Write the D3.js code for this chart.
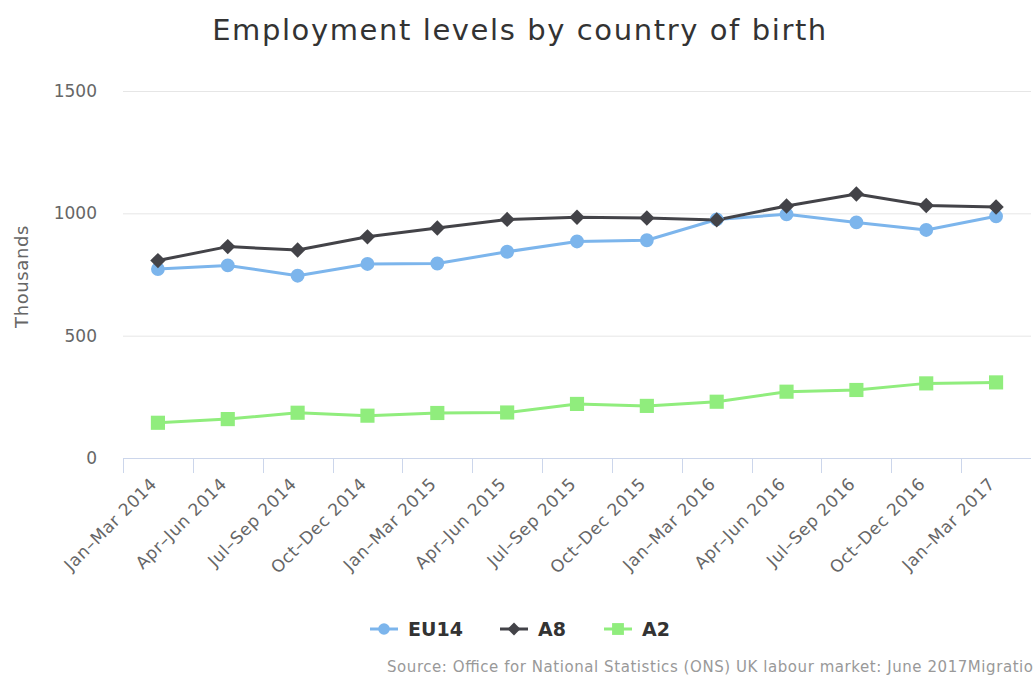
<!DOCTYPE html>
<html>
<head>
<meta charset="utf-8">
<script src="https://cdn.jsdelivr.net/npm/d3@7"></script>
<style>
  body { margin: 0; background: #fff; }
  svg { display: block; font-family: "DejaVu Sans", sans-serif; }
</style>
</head>
<body>
<script>
const quarters = ["Jan–Mar 2014", "Apr–Jun 2014", "Jul–Sep 2014", "Oct–Dec 2014",
  "Jan–Mar 2015", "Apr–Jun 2015", "Jul–Sep 2015", "Oct–Dec 2015",
  "Jan–Mar 2016", "Apr–Jun 2016", "Jul–Sep 2016", "Oct–Dec 2016", "Jan–Mar 2017"];

const eu14 = [772, 787, 745, 793, 795, 843, 885, 890, 975, 996, 963, 932, 988];
const a8 = [807, 864, 850, 904, 940, 975, 984, 981, 973, 1030, 1079, 1032, 1026];
const a2 = [144, 159, 185, 173, 184, 186, 221, 213, 230, 271, 278, 305, 309];

const yTicks = [0, 500, 1000, 1500];

const series = [
  { name: "EU14", values: eu14, color: "#7cb5ec", symbol: "circle" },
  { name: "A8", values: a8, color: "#434348", symbol: "diamond" },
  { name: "A2", values: a2, color: "#90ed7d", symbol: "square" }
];

const width = 1036, height = 677;
const margin = { top: 91, right: 5, bottom: 219, left: 123 };

const svg = d3.select("body").append("svg")
  .attr("width", width)
  .attr("height", height);

const x = d3.scaleBand()
  .domain(quarters)
  .range([margin.left, width - margin.right])
  .padding(0);

const y = d3.scaleLinear()
  .domain([0, 1500])
  .range([height - margin.bottom, margin.top]);

// title
svg.append("text")
  .attr("x", 520)
  .attr("y", 40)
  .attr("text-anchor", "middle")
  .attr("font-size", 29)
  .attr("letter-spacing", 1.6)
  .attr("fill", "#333333")
  .text("Employment levels by country of birth");

// gridlines
svg.append("g")
  .selectAll("line")
  .data(yTicks.filter(d => d > 0))
  .enter()
  .append("line")
  .attr("x1", margin.left)
  .attr("x2", width - margin.right)
  .attr("y1", d => y(d) + 0.5)
  .attr("y2", d => y(d) + 0.5)
  .attr("stroke", "#e6e6e6")
  .attr("stroke-width", 1);

// y labels
svg.append("g")
  .selectAll("text")
  .data(yTicks)
  .enter()
  .append("text")
  .attr("x", 97)
  .attr("y", d => y(d) + 6)
  .attr("text-anchor", "end")
  .attr("font-size", 17)
  .attr("fill", "#666666")
  .text(d => d);

svg.append("text")
  .attr("transform", `translate(28, ${(y(0) + y(1500)) / 2 + 2}) rotate(-90)`)
  .attr("text-anchor", "middle")
  .attr("font-size", 18)
  .attr("letter-spacing", 0.6)
  .attr("fill", "#666666")
  .text("Thousands");

// x axis
const x0 = height - margin.bottom;
svg.append("line")
  .attr("x1", margin.left)
  .attr("x2", width - margin.right)
  .attr("y1", x0 + 0.5)
  .attr("y2", x0 + 0.5)
  .attr("stroke", "#ccd6eb");

svg.append("g")
  .selectAll("line")
  .data(quarters)
  .enter()
  .append("line")
  .attr("x1", d => Math.round(x(d)) + 0.5)
  .attr("x2", d => Math.round(x(d)) + 0.5)
  .attr("y1", x0)
  .attr("y2", x0 + 15)
  .attr("stroke", "#ccd6eb");

svg.append("g")
  .selectAll("text")
  .data(quarters)
  .enter()
  .append("text")
  .attr("transform", d => `translate(${x(d) + x.bandwidth() / 2}, ${x0 + 27}) rotate(-45)`)
  .attr("text-anchor", "end")
  .attr("font-size", 17)
  .attr("letter-spacing", 0.6)
  .attr("fill", "#666666")
  .text(d => d);

// lines and markers
const cx = (d, i) => x(quarters[i]) + x.bandwidth() / 2;

const line = d3.line()
  .x((d, i) => cx(d, i))
  .y(d => y(d));

const symbolType = { circle: d3.symbolCircle, diamond: d3.symbolDiamond2, square: d3.symbolSquare };
const symbolSize = { circle: 150, diamond: 150, square: 200 };

series.forEach(s => {
  svg.append("path")
    .datum(s.values)
    .attr("fill", "none")
    .attr("stroke", s.color)
    .attr("stroke-width", 3)
    .attr("stroke-linejoin", "round")
    .attr("d", line);
});

series.forEach(s => {
  svg.append("g")
    .selectAll("path")
    .data(s.values)
    .enter()
    .append("path")
    .attr("transform", (d, i) => `translate(${cx(d, i)}, ${y(d)})`)
    .attr("d", d3.symbol().type(symbolType[s.symbol]).size(symbolSize[s.symbol]))
    .attr("fill", s.color);
});

// legend
const legendX = [370, 500, 604];
const legend = svg.append("g")
  .selectAll("g")
  .data(series)
  .enter()
  .append("g")
  .attr("transform", (d, i) => `translate(${legendX[i]}, 629)`);

legend.append("line")
  .attr("x1", 0)
  .attr("x2", 28)
  .attr("stroke", d => d.color)
  .attr("stroke-width", 3);

legend.append("path")
  .attr("transform", "translate(14, 0)")
  .attr("d", d => d3.symbol().type(symbolType[d.symbol]).size(symbolSize[d.symbol] * 0.7)())
  .attr("fill", d => d.color);

legend.append("text")
  .attr("x", 38)
  .attr("y", 7)
  .attr("font-size", 19)
  .attr("font-weight", "bold")
  .attr("fill", "#333333")
  .text(d => d.name);

// credits (cut short at the right edge, as in the original)
svg.append("text")
  .attr("x", 387)
  .attr("y", 672)
  .attr("font-size", 15)
  .attr("textLength", 646)
  .attr("lengthAdjust", "spacing")
  .attr("fill", "#999999")
  .text("Source: Office for National Statistics (ONS) UK labour market: June 2017Migratio");
</script>
</body>
</html>
